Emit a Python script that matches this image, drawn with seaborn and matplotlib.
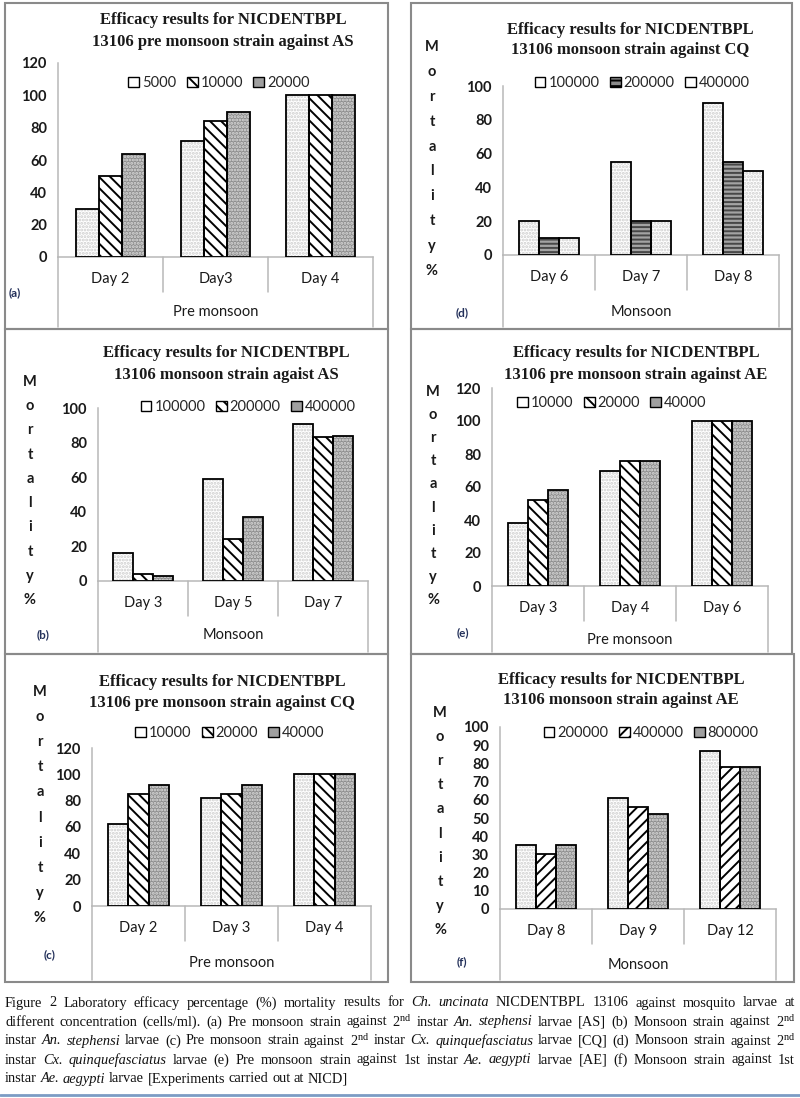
import numpy as np
import pandas as pd
import matplotlib
matplotlib.use("Agg")
import matplotlib.pyplot as plt
import seaborn as sns
from matplotlib.patches import Patch, Rectangle
from matplotlib.lines import Line2D

# ---- data (mortality %, one list per concentration, values per day) ----
days_a = ["Day 2", "Day3", "Day 4"]
conc_a = ["5000", "10000", "20000"]
mort_a = [[30, 72, 100], [50, 84, 100], [64, 90, 100]]

days_d = ["Day 6", "Day 7", "Day 8"]
conc_d = ["100000", "200000", "400000"]
mort_d = [[20, 55, 90], [10, 20, 55], [10, 20, 50]]

days_b = ["Day 3", "Day 5", "Day 7"]
conc_b = ["100000", "200000", "400000"]
mort_b = [[16, 59, 91], [4, 24, 83], [3, 37, 84]]

days_e = ["Day 3", "Day 4", "Day 6"]
conc_e = ["10000", "20000", "40000"]
mort_e = [[38, 70, 100], [52, 76, 100], [58, 76, 100]]

days_c = ["Day 2", "Day 3", "Day 4"]
conc_c = ["10000", "20000", "40000"]
mort_c = [[62, 82, 100], [85, 85, 100], [92, 92, 100]]

days_f = ["Day 8", "Day 9", "Day 12"]
conc_f = ["200000", "400000", "800000"]
mort_f = [[35, 61, 87], [30, 56, 78], [35, 52, 78]]

titles = {
    "a": ["Efficacy results for NICDENTBPL", "13106 pre monsoon strain against AS"],
    "d": ["Efficacy results for NICDENTBPL", "13106 monsoon strain against CQ"],
    "b": ["Efficacy results for NICDENTBPL", "13106 monsoon strain agaist AS"],
    "e": ["Efficacy results for NICDENTBPL", "13106 pre monsoon strain against AE"],
    "c": ["Efficacy results for NICDENTBPL", "13106 pre monsoon strain against CQ"],
    "f": ["Efficacy results for NICDENTBPL", "13106 monsoon strain against AE"],
}

caption_lines = [
    "Figure 2 Laboratory efficacy percentage (%) mortality results for *Ch. uncinata* NICDENTBPL 13106 against mosquito larvae at",
    "different concentration (cells/ml). (a) Pre monsoon strain against 2^nd instar *An. stephensi* larvae [AS] (b) Monsoon strain against 2^nd",
    "instar *An. stephensi* larvae (c) Pre monsoon strain against 2^nd instar *Cx. quinquefasciatus* larvae [CQ] (d) Monsoon strain against 2^nd",
    "instar *Cx. quinquefasciatus* larvae (e) Pre monsoon strain against 1st instar *Ae. aegypti* larvae [AE] (f) Monsoon strain against 1st",
    "instar *Ae. aegypti* larvae [Experiments carried out at NICD]",
]

# ---- look ----
W, H = 800, 1098
AXIS_GRAY = "#b8b8b8"
BOX_GRAY = "#8a8a8a"

BAR_STYLES = {
    "dots": dict(face="white", hatch=".....", hcolor="#cdcdcd", lface="white", lhatch=None),
    "diag_back": dict(face="white", hatch="\\\\\\", hcolor="black", lface="white", lhatch="\\\\\\"),
    "diag_fwd": dict(face="white", hatch="///", hcolor="black", lface="white", lhatch="///"),
    "gray": dict(face="#8f8f8f", hatch=".....", hcolor="#dadada", lface="#a0a0a0", lhatch=None),
    "hlines": dict(face="#a3a3a3", hatch="----", hcolor="#474747", lface="#8a8a8a", lhatch="---"),
}

sns.set_style("white")
plt.rcParams["font.family"] = ["Lato", "DejaVu Sans"]
plt.rcParams["hatch.linewidth"] = 1.4
plt.rcParams["mathtext.fontset"] = "custom"
plt.rcParams["mathtext.rm"] = "Liberation Serif"
plt.rcParams["mathtext.it"] = "Liberation Serif:italic"


def fx(x):
    return x / W


def fy(y):
    return 1 - y / H


# layout of each panel in pixel coordinates of the 800x1098 picture
panels = [
    dict(key="a", days=days_a, conc=conc_a, vals=mort_a, styles=("dots", "diag_back", "gray"),
         ymax=120, step=20, box=(5, 3, 388, 329), axes=(58, 373, 257, 63),
         title_x=223, title_y=(20, 42), legend=(219, 83), group="Pre monsoon", group_y=312,
         tag=(15, 293), ylab=None),
    dict(key="d", days=days_d, conc=conc_d, vals=mort_d, styles=("dots", "hlines", "dots"),
         ymax=100, step=20, box=(411, 3, 792, 329), axes=(503, 779, 255, 86),
         title_x=630, title_y=(30, 50), legend=(642, 83), group="Monsoon", group_y=312,
         tag=(462, 313), ylab=(432, 47, 271)),
    dict(key="b", days=days_b, conc=conc_b, vals=mort_b, styles=("dots", "diag_back", "gray"),
         ymax=100, step=20, box=(5, 329, 388, 654), axes=(98, 368, 581, 408),
         title_x=226, title_y=(353, 375), legend=(248, 407), group="Monsoon", group_y=635,
         tag=(43, 635), ylab=(30, 382, 600)),
    dict(key="e", days=days_e, conc=conc_e, vals=mort_e, styles=("dots", "diag_back", "gray"),
         ymax=120, step=20, box=(411, 329, 792, 654), axes=(492, 768, 586, 388),
         title_x=636, title_y=(353, 375), legend=(612, 403), group="Pre monsoon", group_y=640,
         tag=(463, 633), ylab=(433, 392, 600)),
    dict(key="c", days=days_c, conc=conc_c, vals=mort_c, styles=("dots", "diag_back", "gray"),
         ymax=120, step=20, box=(5, 654, 388, 982), axes=(92, 371, 906, 748),
         title_x=222, title_y=(682, 703), legend=(230, 733), group="Pre monsoon", group_y=963,
         tag=(50, 955), ylab=(40, 692, 918)),
    dict(key="f", days=days_f, conc=conc_f, vals=mort_f, styles=("dots", "diag_fwd", "gray"),
         ymax=100, step=10, box=(411, 654, 794, 982), axes=(500, 776, 909, 727),
         title_x=621, title_y=(680, 700), legend=(651, 733), group="Monsoon", group_y=965,
         tag=(462, 962), ylab=(440, 713, 930)),
]


def style_bars(ax, styles):
    for cont, name in zip(ax.containers, styles):
        st = BAR_STYLES[name]
        for bar in cont:
            bar.set_facecolor(st["face"])
            bar.set_edgecolor(st["hcolor"])
            bar.set_hatch(st["hatch"])
            bar.set_linewidth(0)
            ax.add_patch(Rectangle(bar.get_xy(), bar.get_width(), bar.get_height(),
                                   fill=False, edgecolor="black", lw=1.3, zorder=3))


def draw_panel(fig, p):
    x0, y0, x1, y1 = p["box"]
    fig.add_artist(Rectangle((fx(x0), fy(y1)), (x1 - x0) / W, (y1 - y0) / H,
                             transform=fig.transFigure, fill=False, ec=BOX_GRAY, lw=1.5))

    left, right, base, top = p["axes"]
    ax = fig.add_axes([fx(left), fy(base), (right - left) / W, (base - top) / H])

    df = pd.DataFrame([
        {"day": d, "conc": c, "mortality": v}
        for c, row in zip(p["conc"], p["vals"])
        for d, v in zip(p["days"], row)
    ])
    sns.barplot(data=df, x="day", y="mortality", hue="conc", order=p["days"],
                hue_order=p["conc"], width=0.66, errorbar=None, legend=False, ax=ax)
    style_bars(ax, p["styles"])

    ax.set_xlim(-0.5, 2.5)
    ax.set_ylim(0, p["ymax"])
    ax.set_yticks(np.arange(0, p["ymax"] + 1, p["step"]))
    ax.set_xlabel("")
    ax.set_ylabel("")
    for s in ["top", "right"]:
        ax.spines[s].set_visible(False)
    for s in ["left", "bottom"]:
        ax.spines[s].set_color(AXIS_GRAY)
        ax.spines[s].set_linewidth(1.1)
    ax.tick_params(axis="y", length=4, color=AXIS_GRAY, width=1.1, pad=4,
                   labelsize=10.5, labelcolor="#1a1a1a")
    ax.tick_params(axis="x", length=0, pad=11, labelsize=10.5, labelcolor="#1a1a1a")
    for lbl in ax.get_yticklabels():
        lbl.set_fontweight("bold")
    ax.patch.set_alpha(0)

    # excel style category separators
    ax_h = base - top
    tr = ax.get_xaxis_transform()
    for xs in [0.5, 1.5]:
        ax.plot([xs, xs], [0, -35 / ax_h], transform=tr, color=AXIS_GRAY, lw=1.1, clip_on=False)
    for xs in [-0.5, 2.5]:
        ax.plot([xs, xs], [0, -(y1 - base - 2) / ax_h], transform=tr, color=AXIS_GRAY,
                lw=1.1, clip_on=False)

    # titles
    for line, ty in zip(titles[p["key"]], p["title_y"]):
        fig.text(fx(p["title_x"]), fy(ty), line, ha="center", va="center",
                 family="Liberation Serif", fontweight="bold", fontsize=12, color="#1a1a1a")

    # legend
    handles = []
    for name, lab in zip(p["styles"], p["conc"]):
        st = BAR_STYLES[name]
        handles.append(Patch(facecolor=st["lface"], edgecolor="black", hatch=st["lhatch"],
                             lw=1.0, label=lab))
    ax.legend(handles=handles, loc="center", bbox_to_anchor=(fx(p["legend"][0]), fy(p["legend"][1])),
              bbox_transform=fig.transFigure, ncol=3, frameon=False, fontsize=10.5,
              handlelength=0.75, handleheight=0.75, handletextpad=0.2, columnspacing=0.7,
              borderpad=0, borderaxespad=0)

    # group label and panel tag
    fig.text(fx((left + right) / 2), fy(p["group_y"]), p["group"], ha="center", va="center",
             fontsize=10.5, color="#1a1a1a")
    fig.text(fx(p["tag"][0]), fy(p["tag"][1]), "(%s)" % p["key"], ha="center", va="center",
             fontsize=8.5, fontweight="bold", color="#23305a")

    # stacked y axis title
    if p["ylab"] is not None:
        lx, ly0, ly1 = p["ylab"]
        letters = list("Mortality%")
        for i, ch in enumerate(letters):
            yy = ly0 + (ly1 - ly0) * i / (len(letters) - 1)
            fig.text(fx(lx), fy(yy), ch, ha="center", va="center", fontsize=10.5,
                     fontweight="bold", color="#1a1a1a")


def caption_words(line):
    words = []
    for i, seg in enumerate(line.split("*")):
        for w in seg.split():
            if "^" in w:
                base_w, sup = w.split("^")
                w = base_w + r"$^{\mathregular{" + sup + "}}$"
            words.append((w, i % 2 == 1))
    return words


def draw_caption(fig, lines, x0, x1, y_first, step, size):
    renderer = fig.canvas.get_renderer()
    for n, line in enumerate(lines):
        y = fy(y_first + n * step)
        texts = []
        for w, italic in caption_words(line):
            texts.append(fig.text(0, y, w, fontsize=size, family="Liberation Serif",
                                  style="italic" if italic else "normal", va="center",
                                  color="#111111"))
        widths = [t.get_window_extent(renderer).width for t in texts]
        if n < len(lines) - 1 and len(texts) > 1:
            gap = (x1 - x0 - sum(widths)) / (len(texts) - 1)
        else:
            gap = size * 100 / 72 * 0.25
        x = x0
        for t, w in zip(texts, widths):
            t.set_x(fx(x))
            x += w + gap


fig = plt.figure(figsize=(W / 100, H / 100), dpi=100)
for p in panels:
    draw_panel(fig, p)

draw_caption(fig, caption_lines, 5, 795, 1003, 19, 10.4)
fig.add_artist(Line2D([0, 1], [fy(1095), fy(1095)], transform=fig.transFigure,
                      color="#7c9cc4", lw=2))

fig.savefig("out.png", dpi=100)
